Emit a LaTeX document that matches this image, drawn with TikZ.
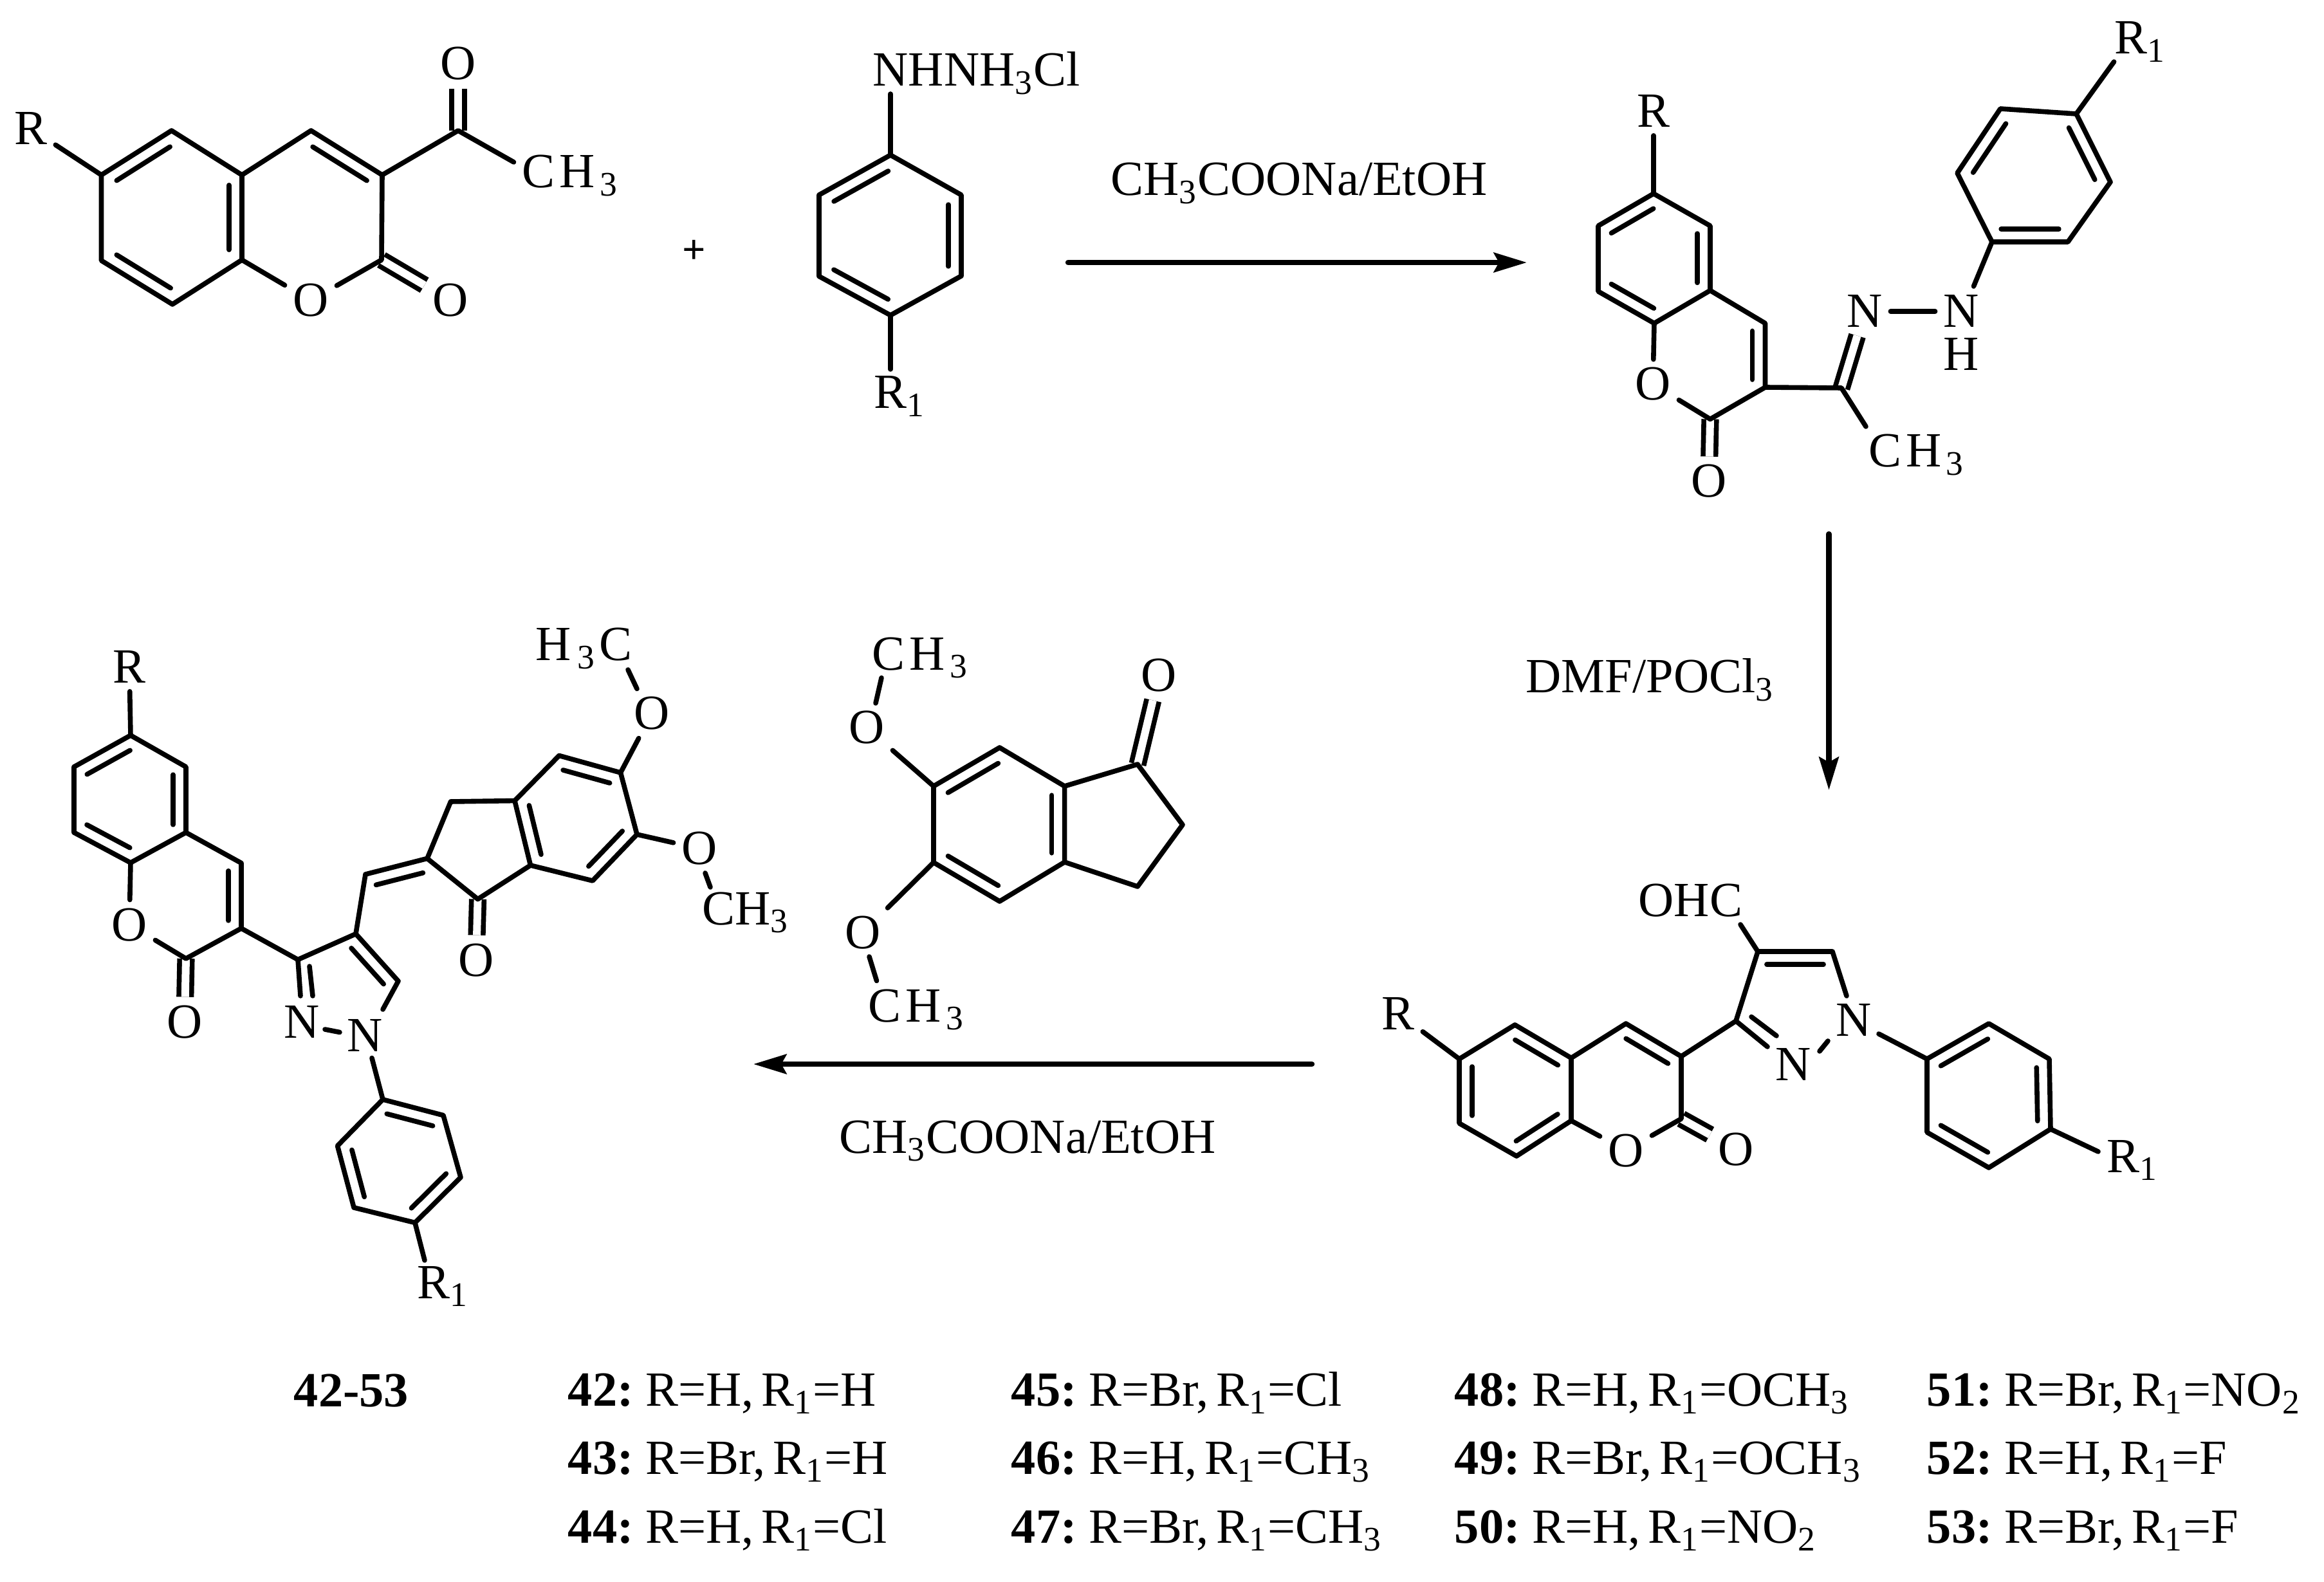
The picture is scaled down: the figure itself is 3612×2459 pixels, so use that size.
\documentclass[tikz,border=0pt]{standalone}
\usepackage{fontspec}
\setmainfont{Liberation Serif}
\usetikzlibrary{arrows.meta,calc}
\newcommand{\legendfont}{\fontsize{19.1}{23}\selectfont\setlength{\spaceskip}{.16em}}
\tikzset{
  every node/.style={font=\fontsize{19.1}{23}\selectfont},
  bond/.style={line width=1.9pt,line cap=round,line join=round},
  dbond/.style={line width=1.9pt,double,double distance=3pt},
  rxn/.style={line width=2.1pt,line cap=round,-{Stealth[length=12.8pt,width=7.6pt,inset=2pt]}},
  atom/.style={anchor=base,inner sep=3pt},
  chem/.style={anchor=base west,inner sep=0pt},
  legend/.style={chem,font=\legendfont},
}
\newcommand{\innerbond}[2]{\draw[bond] ($(#1)!.12!(#2)!5pt!90:(#2)$) -- ($(#2)!.12!(#1)!5pt!-90:(#1)$);}
\newcommand{\spch}{C\kern1.8pt H\kern1.8pt\textsubscript{3}}
\begin{document}
\begin{tikzpicture}[x=.25pt,y=-.25pt]
    \useasboundingbox (0,0) rectangle (3612,2459);

    \coordinate (a1) at (157.5,272);
    \coordinate (a2) at (266.6,203);
    \coordinate (a3) at (376,272);
    \coordinate (a4) at (376,404);
    \coordinate (a5) at (268,473);
    \coordinate (a6) at (157.5,405);
    \coordinate (a7) at (483.4,203);
    \coordinate (a8) at (594,272);
    \coordinate (a9) at (593,404);
    \coordinate (a10) at (712,203);
    \coordinate (a11) at (798.5,252);
    \node[atom] (ar) at (48,225) {R};
    \node[atom] (ao1) at (483,492) {O};
    \node[atom] (ao2) at (700,492) {O};
    \node[atom] (ao3) at (712,124) {O};
    \node[chem] (ach) at (811,292) {\spch};
    \draw[dbond] (a9) -- (ao2);
    \draw[dbond] (a10) -- (ao3);
    \draw[bond] (a1) -- (a2) -- (a3) -- (a4) -- (a5) -- (a6) -- cycle;
    \draw[bond] (a3) -- (a7) -- (a8) -- (a9) -- (ao1) -- (a4);
    \draw[bond] (a8) -- (a10) -- (a11);
    \draw[bond] (a1) -- (ar);
    \innerbond{a2}{a1}
    \innerbond{a6}{a5}
    \innerbond{a4}{a3}
    \innerbond{a8}{a7}

    \node[font=\fontsize{16}{18}\bfseries\selectfont,inner sep=0pt] (plus) at (1079,391) {+};

    \coordinate (b1) at (1384,241);
    \coordinate (b2) at (1273,303);
    \coordinate (b3) at (1273,429.5);
    \coordinate (b4) at (1384,490);
    \coordinate (b5) at (1494,429);
    \coordinate (b6) at (1494,303);
    \coordinate (b7) at (1384,146);
    \coordinate (b8) at (1384,574);
    \node[chem] (bn) at (1356,134) {NHNH\textsubscript{3}Cl};
    \node[chem] (br) at (1358,635) {R\textsubscript{1}};
    \draw[bond] (b1) -- (b2) -- (b3) -- (b4) -- (b5) -- (b6) -- cycle;
    \draw[bond] (b1) -- (b7);
    \draw[bond] (b4) -- (b8);
    \innerbond{b1}{b2}
    \innerbond{b3}{b4}
    \innerbond{b5}{b6}

    \coordinate (r1s) at (1660,408);
    \coordinate (r1e) at (2373,408);
    \draw[rxn] (r1s) -- (r1e);
    \node[chem] (r1t) at (1726,304) {CH\textsubscript{3}COONa/EtOH};

    \coordinate (c1) at (2570,301);
    \coordinate (c2) at (2484,351);
    \coordinate (c3) at (2484,453);
    \coordinate (c4) at (2571,502.5);
    \coordinate (c5) at (2658,451.5);
    \coordinate (c6) at (2658,351);
    \coordinate (c7) at (2743.5,502.5);
    \coordinate (c8) at (2743.5,602);
    \coordinate (c9) at (2658,651.5);
    \coordinate (c10) at (2862,603);
    \coordinate (c11) at (2900,663);
    \coordinate (c12) at (3067.5,445);
    \coordinate (p1) at (3096,376);
    \coordinate (p2) at (3214,376);
    \coordinate (p3) at (3280,283);
    \coordinate (p4) at (3227,177);
    \coordinate (p5) at (3109,169);
    \coordinate (p6) at (3042,269);
    \coordinate (p7) at (3285.6,96);
    \node[atom] (cr) at (2570,198) {R};
    \node[atom] (co1) at (2569,622) {O};
    \node[atom] (co2) at (2656,773) {O};
    \node[atom] (cn1) at (2898,509) {N};
    \node[atom] (cn2) at (3048,509) {N};
    \node[atom,inner sep=0pt] (ch) at (3048,575.5) {H};
    \node[chem] (cch) at (2903.6,726) {\spch};
    \node[chem] (cr1) at (3286,84) {R\textsubscript{1}};
    \draw[dbond] (c9) -- (co2);
    \draw[dbond] (c10) -- (cn1);
    \draw[bond] (c1) -- (c2) -- (c3) -- (c4) -- (c5) -- (c6) -- cycle;
    \draw[bond] (c5) -- (c7) -- (c8) -- (c9) -- (co1) -- (c4);
    \draw[bond] (c8) -- (c10) -- (c11);
    \draw[bond] (c1) -- (cr);
    \draw[bond] (cn1) -- (cn2);
    \draw[bond] (c12) -- (p1);
    \draw[bond] (p1) -- (p2) -- (p3) -- (p4) -- (p5) -- (p6) -- cycle;
    \draw[bond] (p4) -- (p7);
    \innerbond{c1}{c2}
    \innerbond{c3}{c4}
    \innerbond{c5}{c6}
    \innerbond{c8}{c7}
    \innerbond{p1}{p2}
    \innerbond{p3}{p4}
    \innerbond{p5}{p6}

    \coordinate (r2s) at (2842.5,830);
    \coordinate (r2e) at (2842.5,1228);
    \draw[rxn] (r2s) -- (r2e);
    \node[chem] (r2t) at (2371,1077) {DMF/POCl\textsubscript{3}};

    \coordinate (d1) at (2268,1646);
    \coordinate (d2) at (2354.5,1593);
    \coordinate (d3) at (2442,1644.5);
    \coordinate (d4) at (2442,1742);
    \coordinate (d5) at (2357,1797);
    \coordinate (d6) at (2268,1746);
    \coordinate (d7) at (2527,1591);
    \coordinate (d8) at (2613,1642);
    \coordinate (d9) at (2613,1739);
    \coordinate (d10) at (2698,1587);
    \coordinate (d11) at (2732,1479);
    \coordinate (d12) at (2848,1479);
    \coordinate (d13) at (2705,1437);
    \coordinate (d14) at (2747,1627);
    \coordinate (d15) at (2722,1580.5);
    \coordinate (d16) at (2761,1610);
    \coordinate (d17) at (2870,1548);
    \coordinate (d18) at (2920,1607);
    \coordinate (d19) at (2828,1634);
    \coordinate (d20) at (2841,1618);
    \coordinate (q1) at (2995,1646);
    \coordinate (q2) at (3091,1591);
    \coordinate (q3) at (3185,1646);
    \coordinate (q4) at (3187,1755);
    \coordinate (q5) at (3091,1815);
    \coordinate (q6) at (2995,1760);
    \coordinate (q7) at (3261,1790);
    \node[atom] (dr) at (2173,1600) {R};
    \node[atom] (do1) at (2527,1813) {O};
    \node[atom] (do2) at (2698,1811) {O};
    \node[atom] (dn1) at (2881,1610) {N};
    \node[atom] (dn2) at (2787.5,1679) {N};
    \node[chem] (dohc) at (2546,1424) {OHC};
    \node[chem] (dr1) at (3274,1822) {R\textsubscript{1}};
    \draw[dbond] (d9) -- (do2);
    \draw[bond] (d1) -- (d2) -- (d3) -- (d4) -- (d5) -- (d6) -- cycle;
    \draw[bond] (d3) -- (d7) -- (d8) -- (d9) -- (do1) -- (d4);
    \draw[bond] (d1) -- (dr);
    \draw[bond] (d8) -- (d10) -- (d11) -- (d12) -- (d17);
    \draw[bond] (d11) -- (d13);
    \draw[bond] (d10) -- (d14);
    \draw[bond] (d15) -- (d16);
    \draw[bond] (d19) -- (d20);
    \draw[bond] (d18) -- (q1);
    \draw[bond] (q1) -- (q2) -- (q3) -- (q4) -- (q5) -- (q6) -- cycle;
    \draw[bond] (q4) -- (q7);
    \innerbond{d1}{d6}
    \innerbond{d5}{d4}
    \innerbond{d3}{d2}
    \innerbond{d8}{d7}
    \innerbond{d12}{d11}
    \innerbond{q2}{q1}
    \innerbond{q6}{q5}
    \innerbond{q4}{q3}

    \coordinate (e1) at (1553.6,1162);
    \coordinate (e2) at (1451,1222);
    \coordinate (e3) at (1451,1340.6);
    \coordinate (e4) at (1553.6,1401);
    \coordinate (e5) at (1654.6,1340);
    \coordinate (e6) at (1654.6,1222);
    \coordinate (e7) at (1768,1188);
    \coordinate (e8) at (1838,1282);
    \coordinate (e9) at (1768,1378);
    \coordinate (e10) at (1361,1093);
    \coordinate (e11) at (1370,1053.6);
    \coordinate (e12) at (1351,1487);
    \coordinate (e13) at (1362.5,1524.5);
    \node[atom] (eo1) at (1801,1075) {O};
    \node[atom] (eo2) at (1347,1156) {O};
    \node[atom] (eo3) at (1340.6,1474.6) {O};
    \node[chem] (ech1) at (1355,1041.5) {\spch};
    \node[chem] (ech2) at (1349,1588) {\spch};
    \draw[dbond] (e7) -- (eo1);
    \draw[bond] (e1) -- (e2) -- (e3) -- (e4) -- (e5) -- (e6) -- cycle;
    \draw[bond] (e6) -- (e7) -- (e8) -- (e9) -- (e5);
    \draw[bond] (e2) -- (eo2);
    \draw[bond] (e10) -- (e11);
    \draw[bond] (e3) -- (eo3);
    \draw[bond] (e12) -- (e13);
    \innerbond{e1}{e2}
    \innerbond{e3}{e4}
    \innerbond{e5}{e6}

    \coordinate (r3s) at (2039,1654);
    \coordinate (r3e) at (1171,1654);
    \draw[rxn] (r3s) -- (r3e);
    \node[chem] (r3t) at (1304,1792) {CH\textsubscript{3}COONa/EtOH};

    \coordinate (f1) at (203,1143);
    \coordinate (f2) at (115,1192);
    \coordinate (f3) at (115,1294);
    \coordinate (f4) at (203,1341);
    \coordinate (f5) at (289,1294);
    \coordinate (f6) at (289,1192);
    \coordinate (f7) at (375,1341.5);
    \coordinate (f8) at (375,1443);
    \coordinate (f9) at (289,1490);
    \coordinate (f10) at (463,1491.6);
    \coordinate (f11) at (553,1451.6);
    \coordinate (f12) at (619,1525);
    \coordinate (f13) at (467,1548);
    \coordinate (f14) at (481,1502);
    \coordinate (f15) at (486,1548);
    \coordinate (f16) at (505,1600);
    \coordinate (f17) at (528,1604.5);
    \coordinate (f18) at (595,1569);
    \coordinate (f19) at (568,1359);
    \coordinate (f20) at (664,1334.4);
    \coordinate (f21) at (700.5,1246);
    \coordinate (f22) at (800,1244.6);
    \coordinate (f23) at (824.5,1345);
    \coordinate (f24) at (742.6,1397.6);
    \coordinate (f25) at (869,1174.5);
    \coordinate (f26) at (964.5,1201);
    \coordinate (f27) at (990,1297);
    \coordinate (f28) at (921,1369);
    \coordinate (f29) at (990,1070.7);
    \coordinate (f30) at (976,1041);
    \coordinate (f31) at (1096,1357);
    \coordinate (f32) at (1104,1379);
    \coordinate (f33) at (578,1644.5);
    \coordinate (s1) at (595,1709);
    \coordinate (s2) at (689,1733.6);
    \coordinate (s3) at (716,1830);
    \coordinate (s4) at (645,1900.5);
    \coordinate (s5) at (550,1877);
    \coordinate (s6) at (524.5,1781);
    \coordinate (s7) at (660,1959);
    \node[atom] (fr) at (201,1062) {R};
    \node[atom] (fo1) at (201,1462) {O};
    \node[atom] (fo2) at (287,1613) {O};
    \node[atom] (fo3) at (740,1517) {O};
    \node[atom] (fo4) at (1013,1134) {O};
    \node[atom] (fo5) at (1087,1344) {O};
    \node[atom] (fn1) at (566.6,1634) {N};
    \node[atom] (fn2) at (468.6,1613) {N};
    \node[chem] (fhc) at (832,1027) {H\kern2.5pt\textsubscript{3}\kern1.2pt C};
    \node[chem] (fch) at (1091,1437.5) {CH\textsubscript{3}};
    \node[chem] (fr1) at (648,2018) {R\textsubscript{1}};
    \draw[dbond] (f9) -- (fo2);
    \draw[dbond] (f24) -- (fo3);
    \draw[bond] (f1) -- (f2) -- (f3) -- (f4) -- (f5) -- (f6) -- cycle;
    \draw[bond] (f5) -- (f7) -- (f8) -- (f9) -- (fo1) -- (f4);
    \draw[bond] (f1) -- (fr);
    \draw[bond] (f8) -- (f10) -- (f11) -- (f12) -- (f18);
    \draw[bond] (f10) -- (f13);
    \draw[bond] (f14) -- (f15);
    \draw[bond] (f16) -- (f17);
    \draw[bond] (f11) -- (f19) -- (f20) -- (f21) -- (f22) -- (f23) -- (f24) -- (f20);
    \draw[bond] (f22) -- (f25) -- (f26) -- (f27) -- (f28) -- (f23);
    \draw[bond] (f26) -- (fo4);
    \draw[bond] (f29) -- (f30);
    \draw[bond] (f27) -- (fo5);
    \draw[bond] (f31) -- (f32);
    \draw[bond] (f33) -- (s1);
    \draw[bond] (s1) -- (s2) -- (s3) -- (s4) -- (s5) -- (s6) -- cycle;
    \draw[bond] (s4) -- (s7);
    \innerbond{f1}{f2}
    \innerbond{f3}{f4}
    \innerbond{f5}{f6}
    \innerbond{f8}{f7}
    \innerbond{f12}{f11}
    \innerbond{f20}{f19}
    \innerbond{f26}{f25}
    \innerbond{f22}{f23}
    \innerbond{f28}{f27}
    \innerbond{s2}{s1}
    \innerbond{s6}{s5}
    \innerbond{s4}{s3}

    \node[legend] (lall) at (456,2186) {\textbf{42-53}};
    \node[legend] (l42) at (882,2185) {\textbf{42:} R=H, R\textsubscript{1}=H};
    \node[legend] (l43) at (882,2291) {\textbf{43:} R=Br, R\textsubscript{1}=H};
    \node[legend] (l44) at (882,2398) {\textbf{44:} R=H, R\textsubscript{1}=Cl};
    \node[legend] (l45) at (1571,2185) {\textbf{45:} R=Br, R\textsubscript{1}=Cl};
    \node[legend] (l46) at (1571,2291) {\textbf{46:} R=H, R\textsubscript{1}=CH\textsubscript{3}};
    \node[legend] (l47) at (1571,2398) {\textbf{47:} R=Br, R\textsubscript{1}=CH\textsubscript{3}};
    \node[legend] (l48) at (2260,2185) {\textbf{48:} R=H, R\textsubscript{1}=OCH\textsubscript{3}};
    \node[legend] (l49) at (2260,2291) {\textbf{49:} R=Br, R\textsubscript{1}=OCH\textsubscript{3}};
    \node[legend] (l50) at (2260,2398) {\textbf{50:} R=H, R\textsubscript{1}=NO\textsubscript{2}};
    \node[legend] (l51) at (2994,2185) {\textbf{51:} R=Br, R\textsubscript{1}=NO\textsubscript{2}};
    \node[legend] (l52) at (2994,2291) {\textbf{52:} R=H, R\textsubscript{1}=F};
    \node[legend] (l53) at (2994,2398) {\textbf{53:} R=Br, R\textsubscript{1}=F};
\end{tikzpicture}
\end{document}
